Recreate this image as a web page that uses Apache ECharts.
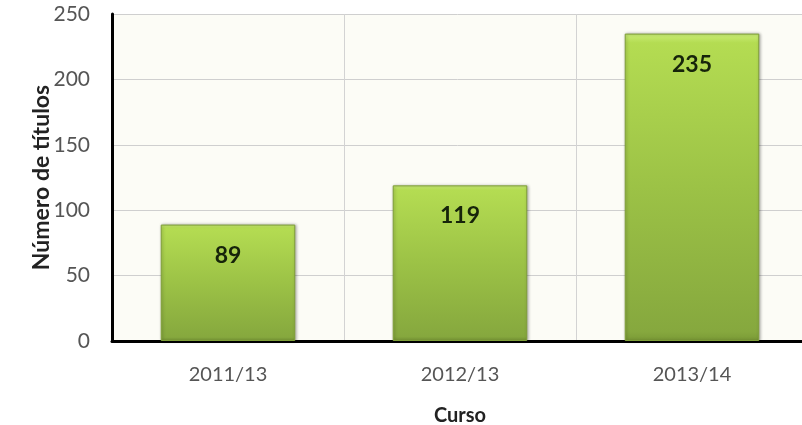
<!DOCTYPE html>
<html>
<head>
<meta charset="utf-8">
<script src="https://cdn.jsdelivr.net/npm/echarts@6/dist/echarts.min.js"></script>
<style>html,body{margin:0;padding:0;background:#fff;overflow:hidden;}#c{width:802px;height:425px;}</style>
</head>
<body>
<div id="c"></div>
<script>
const categories = ['2011/13', '2012/13', '2013/14'];
const values = [89, 119, 235];
const yTicks = [0, 50, 100, 150, 200, 250];

const chart = echarts.init(document.getElementById('c'));
const font = 'Lato, "Open Sans", sans-serif';
chart.setOption({
  animation: false,
  grid: { left: 112, right: -6, top: 14, bottom: 84, containLabel: false, outerBoundsMode: 'none', show: true, backgroundColor: '#fcfcf6', borderWidth: 0 },
  xAxis: {
    type: 'category',
    data: categories,
    name: 'Curso',
    nameLocation: 'middle',
    nameGap: 65,
    nameMoveOverlap: false,
    nameTextStyle: { fontFamily: font, fontWeight: 'bold', fontSize: 20, color: '#222' },
    axisLine: { lineStyle: { color: '#000', width: 3 } },
    axisTick: { show: false },
    axisLabel: { fontFamily: font, fontSize: 20, color: '#555', margin: 24 },
    splitLine: { show: true, lineStyle: { color: '#d3d3d3', width: 1 } }
  },
  yAxis: {
    type: 'value',
    min: yTicks[0],
    max: yTicks[yTicks.length - 1],
    interval: 50,
    name: 'Número de títulos',
    nameLocation: 'middle',
    nameGap: 59,
    nameMoveOverlap: false,
    nameTextStyle: { fontFamily: font, fontWeight: 'bold', fontSize: 23, color: '#222' },
    axisLine: { show: true, lineStyle: { color: '#000', width: 3 } },
    axisTick: { show: false },
    axisLabel: { fontFamily: font, fontSize: 21, color: '#555', margin: 22 },
    splitLine: { show: true, lineStyle: { color: '#cfcfcf', width: 1 } }
  },
  series: [{
    type: 'bar',
    data: values,
    barCategoryGap: '42%',
    itemStyle: {
      color: new echarts.graphic.LinearGradient(0, 0, 0, 1, [
        { offset: 0, color: '#cbee78' },
        { offset: 0.03, color: '#b4dc52' },
        { offset: 0.5, color: '#9cc246' },
        { offset: 0.97, color: '#86a83e' },
        { offset: 1, color: '#7a9a36' }
      ]),
      borderColor: '#7f9f38',
      borderWidth: 1,
      shadowColor: 'rgba(0,0,0,0.3)',
      shadowBlur: 3,
      shadowOffsetX: 1
    },
    label: {
      show: true,
      position: 'insideTop',
      distance: 19,
      fontFamily: font,
      fontWeight: 'bold',
      fontSize: 23,
      color: '#16240a'
    }
  }]
});
</script>
</body>
</html>
